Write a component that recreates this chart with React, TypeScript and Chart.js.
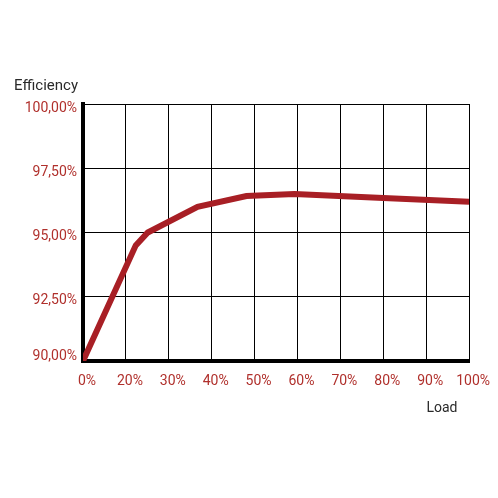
import React, { useEffect, useRef } from "react";
import { Chart, registerables } from "chart.js";

Chart.register(...registerables);

const xTickLabels = ["0%", "20%", "30%", "40%", "50%", "60%", "70%", "80%", "90%", "100%"];
const loadPositions = [0, 1.23, 1.51, 2.67, 3.81, 4.93, 7, 9];
const efficiencyValues = [90.0, 94.5, 95.0, 96.0, 96.42, 96.5, 96.34, 96.2];
const yTickValues = [90, 92.5, 95, 97.5, 100];

const FONT = "Roboto, 'DejaVu Sans Condensed', sans-serif";
const RED = "#b0302c";
const LINE = "#a81f25";

const titlesPlugin = {
  id: "axisTitles",
  afterDraw(chart: any) {
    const ctx = chart.ctx;
    ctx.save();
    ctx.fillStyle = "#2a2a2a";
    ctx.textBaseline = "alphabetic";
    ctx.font = `15px ${FONT}`;
    ctx.textAlign = "left";
    ctx.fillText("Efficiency", 14, 90);
    ctx.font = `14px ${FONT}`;
    ctx.textAlign = "center";
    ctx.fillText("Load", 442, 412);
    ctx.restore();
  },
};

export default function App() {
  const ref = useRef<HTMLCanvasElement>(null);
  useEffect(() => {
    document.body.style.margin = "0";
    const data = loadPositions.map((x, i) => ({ x, y: efficiencyValues[i] }));
    const chart = new Chart(ref.current!, {
      type: "line",
      data: {
        datasets: [
          {
            data,
            borderColor: LINE,
            borderWidth: 6,
            pointRadius: 0,
            tension: 0,
            fill: false,
          },
        ],
      },
      options: {
        animation: false,
        responsive: false,
        layout: { padding: { top: 104, right: 28, left: 0, bottom: 0 } },
        plugins: { legend: { display: false }, tooltip: { enabled: false } },
        scales: {
          x: {
            type: "linear",
            min: 0,
            max: 9,
            afterBuildTicks: (scale: any) => {
              scale.ticks = xTickLabels.map((_, i) => ({ value: i }));
            },
            afterFit: (scale: any) => {
              scale.height = 137;
            },
            ticks: {
              autoSkip: false,
              maxRotation: 0,
              padding: 12,
              labelOffset: 4,
              color: RED,
              font: { family: FONT, size: 14 },
              callback: (v: any) => xTickLabels[Math.round(Number(v))] ?? "",
            },
            grid: { color: "#000", lineWidth: 1, drawTicks: false },
            border: { color: "#000", width: 4 },
          },
          y: {
            type: "linear",
            min: 90,
            max: 100,
            afterBuildTicks: (scale: any) => {
              scale.ticks = yTickValues.map((v) => ({ value: v }));
            },
            afterFit: (scale: any) => {
              scale.width = 83;
            },
            ticks: {
              padding: 6,
              labelOffset: 4,
              color: RED,
              font: { family: FONT, size: 14 },
              callback: (v: any) => {
                const label = Number(v).toFixed(2).replace(".", ",") + "%";
                return Number(v) === 90 ? [label, ""] : label;
              },
            },
            grid: { color: "#000", lineWidth: 1, drawTicks: false },
            border: { color: "#000", width: 4 },
          },
        },
      },
      plugins: [titlesPlugin],
    });
    return () => chart.destroy();
  }, []);
  return (
    <div style={{ width: 498, height: 498 }}>
      <canvas ref={ref} width={498} height={498} style={{ display: "block" }} />
    </div>
  );
}
